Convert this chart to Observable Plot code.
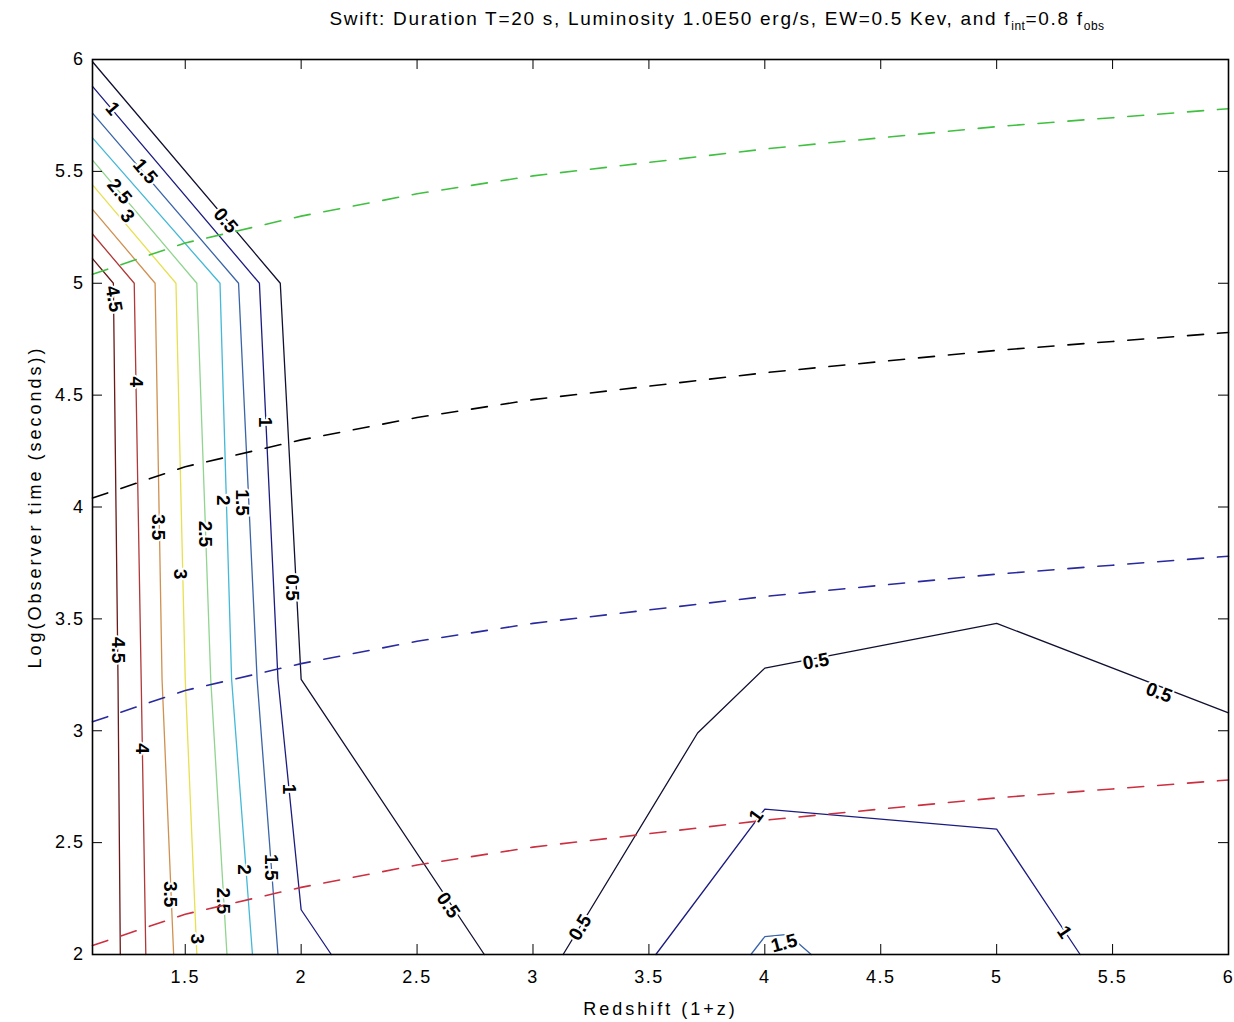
<!DOCTYPE html>
<html>
<head>
<meta charset="utf-8">
<script src="https://cdn.jsdelivr.net/npm/d3@7"></script>
<script src="https://cdn.jsdelivr.net/npm/@observablehq/plot@0.6"></script>
<style>
  body { margin: 0; background: #fff; }
  #title { position: relative; height: 40px; font-family: "Liberation Sans", Arial, sans-serif; font-size: 19px; color: #000; }
  #title span { position: absolute; left: 717px; top: 8px; transform: translateX(-50%); white-space: nowrap; letter-spacing: 1.7px; }
  #title sub { font-size: 12px; letter-spacing: 0.5px; }
  #chart [aria-label="x-axis label"] text, #chart [aria-label="y-axis label"] text { letter-spacing: 3px; }
  #chart [aria-label="x-axis tick label"] text, #chart [aria-label="y-axis tick label"] text { letter-spacing: 1.5px; }
</style>
</head>
<body>
<div id="title"><span>Swift: Duration T=20 s, Luminosity 1.0E50 erg/s, EW=0.5 Kev, and f<sub>int</sub>=0.8 f<sub>obs</sub></span></div>
<div id="chart"></div>
<script>
// Contour levels and their jet-like line colours
const contourLevels = [0.5, 1, 1.5, 2, 2.5, 3, 3.5, 4, 4.5];
const levelColors = ["#101030", "#1c1c80", "#3a64a8", "#44b8d8", "#90d490", "#e8e050", "#d09050", "#b03838", "#6a1818"];

// Axis ticks
const xTicks = [1.5, 2, 2.5, 3, 3.5, 4, 4.5, 5, 5.5, 6];
const yTicks = [2, 2.5, 3, 3.5, 4, 4.5, 5, 5.5, 6];

// Contour paths, [redshift (1+z), log observer time]
const c05Left = [[1.10, 5.99], [1.91, 5.00], [2.00, 3.23], [2.79, 2.00]];
const c10Left = [[1.10, 5.88], [1.82, 5.00], [1.90, 3.23], [2.00, 2.20], [2.13, 2.00]];
const c15Left = [[1.10, 5.76], [1.73, 5.00], [1.81, 3.23], [1.90, 2.00]];
const c20Left = [[1.10, 5.65], [1.65, 5.00], [1.70, 3.23], [1.79, 2.00]];
const c25Left = [[1.10, 5.55], [1.55, 5.00], [1.61, 3.23], [1.68, 2.00]];
const c30Left = [[1.10, 5.44], [1.46, 5.00], [1.50, 3.23], [1.55, 2.00]];
const c35Left = [[1.10, 5.33], [1.37, 5.00], [1.40, 3.23], [1.45, 2.00]];
const c40Left = [[1.10, 5.22], [1.28, 5.00], [1.31, 3.23], [1.33, 2.00]];
const c45Left = [[1.10, 5.11], [1.19, 5.00], [1.21, 3.23], [1.22, 2.00]];
const c05Right = [[3.13, 2.00], [3.71, 2.99], [4.00, 3.28], [5.00, 3.48], [6.00, 3.08]];
const c10Right = [[3.53, 2.00], [4.00, 2.65], [5.00, 2.56], [5.36, 2.00]];
const c15Right = [[3.94, 2.00], [4.00, 2.08], [4.10, 2.09], [4.20, 2.00]];

const contourPaths = [
  {level: 0.5, points: c05Left}, {level: 1, points: c10Left}, {level: 1.5, points: c15Left},
  {level: 2, points: c20Left}, {level: 2.5, points: c25Left}, {level: 3, points: c30Left},
  {level: 3.5, points: c35Left}, {level: 4, points: c40Left}, {level: 4.5, points: c45Left},
  {level: 0.5, points: c05Right}, {level: 1, points: c10Right}, {level: 1.5, points: c15Right}
];

// Inline contour labels: [level, x, y, angle along the line]
const labelSpots = [
  [1, 1.186, 5.78, 50], [1.5, 1.327, 5.50, 50], [2.5, 1.216, 5.41, 50], [3, 1.25, 5.30, 50],
  [0.5, 1.674, 5.28, 50], [4.5, 1.192, 4.93, 80],
  [4, 1.287, 4.56, 90], [1, 1.845, 4.38, 90], [2, 1.662, 4.03, 90], [1.5, 1.745, 4.02, 90],
  [3.5, 1.383, 3.91, 90], [2.5, 1.585, 3.88, 90], [3, 1.478, 3.70, 90], [0.5, 1.96, 3.64, 90],
  [4.5, 1.209, 3.36, 90], [4, 1.314, 2.92, 90], [1, 1.95, 2.74, 90], [1.5, 1.872, 2.39, 90],
  [2, 1.752, 2.38, 90], [3.5, 1.436, 2.27, 90], [2.5, 1.665, 2.24, 90], [3, 1.55, 2.07, 90],
  [0.5, 2.634, 2.22, 56], [0.5, 3.204, 2.12, -59], [0.5, 4.22, 3.31, -10], [0.5, 5.70, 3.17, 21],
  [1, 3.963, 2.62, -54], [1, 5.292, 2.10, 56], [1.5, 4.083, 2.05, -15]
];

// Dashed reference curves, read at these redshifts
const refX = [1.1, 1.5, 2, 2.5, 3, 3.5, 4, 4.5, 5, 5.5, 6];
const refGreen = [5.04, 5.18, 5.30, 5.40, 5.48, 5.54, 5.60, 5.65, 5.70, 5.74, 5.78];
const refBlack = [4.04, 4.18, 4.30, 4.40, 4.48, 4.54, 4.60, 4.65, 4.70, 4.74, 4.78];
const refBlue = [3.04, 3.18, 3.30, 3.40, 3.48, 3.54, 3.60, 3.65, 3.70, 3.74, 3.78];
const refRed = [2.04, 2.18, 2.30, 2.40, 2.48, 2.54, 2.60, 2.65, 2.70, 2.74, 2.78];

const refCurves = [
  {name: "green", color: "#40c040", values: refGreen},
  {name: "black", color: "#000000", values: refBlack},
  {name: "blue", color: "#2a2aa0", values: refBlue},
  {name: "red", color: "#cc3040", values: refRed}
];

const lineRows = contourPaths.flatMap((p, i) => p.points.map(([x, y]) => ({id: i, level: p.level, x, y})));
const labelRows = labelSpots.map(([level, x, y, angle]) => ({level, x, y, angle}));
const refRows = refCurves.flatMap(c => refX.map((x, i) => ({name: c.name, color: c.color, x, y: c.values[i]})));

const W = 1234, H = 982;
const mL = 92, mR = 6, mT = 19, mB = 68;
const innerW = W - mL - mR, innerH = H - mT - mB;
const tickLen = 10;

const chart = Plot.plot({
  width: W, height: H,
  marginLeft: mL, marginRight: mR, marginTop: mT, marginBottom: mB,
  style: {fontFamily: "Liberation Sans, Arial, sans-serif", fontSize: "18px", background: "#fff", color: "#000", overflow: "visible"},
  x: {domain: [1.1, 6]},
  y: {domain: [2, 6]},
  color: {type: "ordinal", domain: contourLevels, range: levelColors},
  marks: [
    Plot.line(lineRows, {x: "x", y: "y", z: "id", stroke: "level", strokeWidth: 1.3}),
    Plot.text(labelRows, {
      x: "x", y: "y", text: d => String(d.level), rotate: "angle",
      fill: "#000", stroke: "#fff", strokeWidth: 4, fontSize: 19, fontWeight: "bold"
    }),
    Plot.line(refRows, {x: "x", y: "y", z: "name", stroke: "color", strokeWidth: 1.6, strokeDasharray: "16,14"}),
    Plot.frame({stroke: "#000", strokeWidth: 1.6}),
    // inward tick marks on all four sides
    Plot.tickX(xTicks, {x: d => d, insetTop: innerH - tickLen, stroke: "#000"}),
    Plot.tickX(xTicks, {x: d => d, insetBottom: innerH - tickLen, stroke: "#000"}),
    Plot.tickY(yTicks, {y: d => d, insetRight: innerW - tickLen, stroke: "#000"}),
    Plot.tickY(yTicks, {y: d => d, insetLeft: innerW - tickLen, stroke: "#000"}),
    Plot.axisX({ticks: xTicks, tickFormat: d => String(d), tickSize: 0, tickPadding: 16, fontSize: 18,
      label: "Redshift (1+z)", labelAnchor: "center", labelOffset: 60, labelArrow: "none"}),
    Plot.axisY({ticks: yTicks, tickFormat: d => String(d), tickSize: 0, tickPadding: 8, fontSize: 18,
      label: "Log(Observer time (seconds))", labelAnchor: "center", labelOffset: 64, labelArrow: "none"})
  ]
});
document.getElementById("chart").appendChild(chart);
</script>
</body>
</html>
